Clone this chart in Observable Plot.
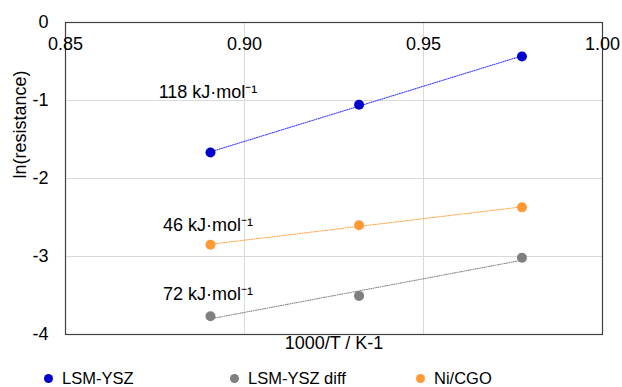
<!DOCTYPE html>
<html>
<head>
<meta charset="utf-8">
<script src="https://cdn.jsdelivr.net/npm/d3@7"></script>
<script src="https://cdn.jsdelivr.net/npm/@observablehq/plot@0.6"></script>
<style>
  html, body { margin: 0; padding: 0; background: #fff; }
  body { width: 622px; height: 387px; overflow: hidden; font-family: "Liberation Sans", Arial, sans-serif; }
  #chart svg { display: block; }
  #legend { position: relative; height: 22px; margin-top: 7px; font-size: 16.5px; color: #000; }
  #legend .item { position: absolute; top: 0; display: flex; align-items: center; gap: 9px; }
  #legend .dot { width: 9px; height: 9px; border-radius: 50%; display: inline-block; }
</style>
</head>
<body>
<div id="chart"></div>
<div id="legend"></div>
<script>
// Data
const xInvT = [0.8905, 0.9320, 0.9775];           // 1000/T (K^-1)
const seriesNames = ["LSM-YSZ", "LSM-YSZ diff", "Ni/CGO"];
const lsmYsz = [-1.667, -1.055, -0.436];
const lsmYszDiff = [-3.765, -3.505, -3.017];
const niCgo = [-2.85, -2.60, -2.37];
const seriesColors = ["#0000cc", "#7f7f7f", "#ff9933"];
const lineColors = ["#3d3dff", "#8c8c8c", "#ffa64d"];
const annotations = ["118 kJ·mol⁻¹", "72 kJ·mol⁻¹", "46 kJ·mol⁻¹"];
const annotX = [0.8898, 0.8898, 0.8898];
const annotY = [-0.90, -3.49, -2.60];
const xTicks = [0.85, 0.90, 0.95, 1.00];
const yTicks = [0, -1, -2, -3, -4];
const legendX = [44, 230, 416];

const seriesValues = [lsmYsz, lsmYszDiff, niCgo];
const rows = [];
seriesNames.forEach((s, i) => xInvT.forEach((x, j) => rows.push({series: s, x, y: seriesValues[i][j]})));
const annots = annotations.map((t, i) => ({t, x: annotX[i], y: annotY[i]}));

const colorScale = {domain: seriesNames, range: seriesColors};

const plot = Plot.plot({
  width: 622,
  height: 362,
  marginLeft: 65,
  marginRight: 20,
  marginTop: 22,
  marginBottom: 28,
  style: {fontFamily: "Liberation Sans, Arial, sans-serif", fontSize: "18px", color: "#000", background: "#fff"},
  x: {domain: [0.85, 1.00], axis: null},
  y: {domain: [-4, 0], axis: null},
  color: colorScale,
  marks: [
    Plot.gridX([0.90, 0.95], {stroke: "#d9d9d9", strokeOpacity: 1, strokeWidth: 1}),
    Plot.gridY([-1, -2, -3], {stroke: "#d9d9d9", strokeOpacity: 1, strokeWidth: 1}),
    Plot.frame({stroke: "#404040", strokeWidth: 1.2}),
    // x tick labels, placed just below the top axis line (axis crosses at y = 0)
    Plot.text(xTicks, {x: d => d, y: 0, dy: 22, text: d => d.toFixed(2), fontSize: 18, fill: "#000"}),
    // y tick labels
    Plot.text(yTicks, {x: 0.85, y: d => d, dx: -17, textAnchor: "end", text: d => String(d), fontSize: 18, fill: "#000"}),
    // trendlines
    ...seriesNames.map((s, i) => Plot.linearRegressionY(rows.filter(d => d.series === s), {
      x: "x", y: "y", ci: 0, stroke: lineColors[i], strokeWidth: 1.1, strokeDasharray: "1,1.3"
    })),
    Plot.dot(rows, {x: "x", y: "y", fill: "series", r: 5}),
    Plot.text(annots, {x: "x", y: "y", text: "t", fontSize: 18, fill: "#000"}),
    // axis titles
    Plot.text(["1000/T / K-1"], {frameAnchor: "bottom", dy: 14, fontSize: 18, fill: "#000"}),
    Plot.text(["ln(resistance)"], {frameAnchor: "left", dx: -45, rotate: -90, fontSize: 18, fill: "#000"})
  ]
});
document.getElementById("chart").appendChild(plot);

const legend = document.getElementById("legend");
seriesNames.forEach((s, i) => {
  const item = document.createElement("div");
  item.className = "item";
  item.style.left = legendX[i] + "px";
  const dot = document.createElement("span");
  dot.className = "dot";
  dot.style.background = seriesColors[i];
  const lab = document.createElement("span");
  lab.textContent = s;
  item.appendChild(dot);
  item.appendChild(lab);
  legend.appendChild(item);
});
</script>
</body>
</html>
